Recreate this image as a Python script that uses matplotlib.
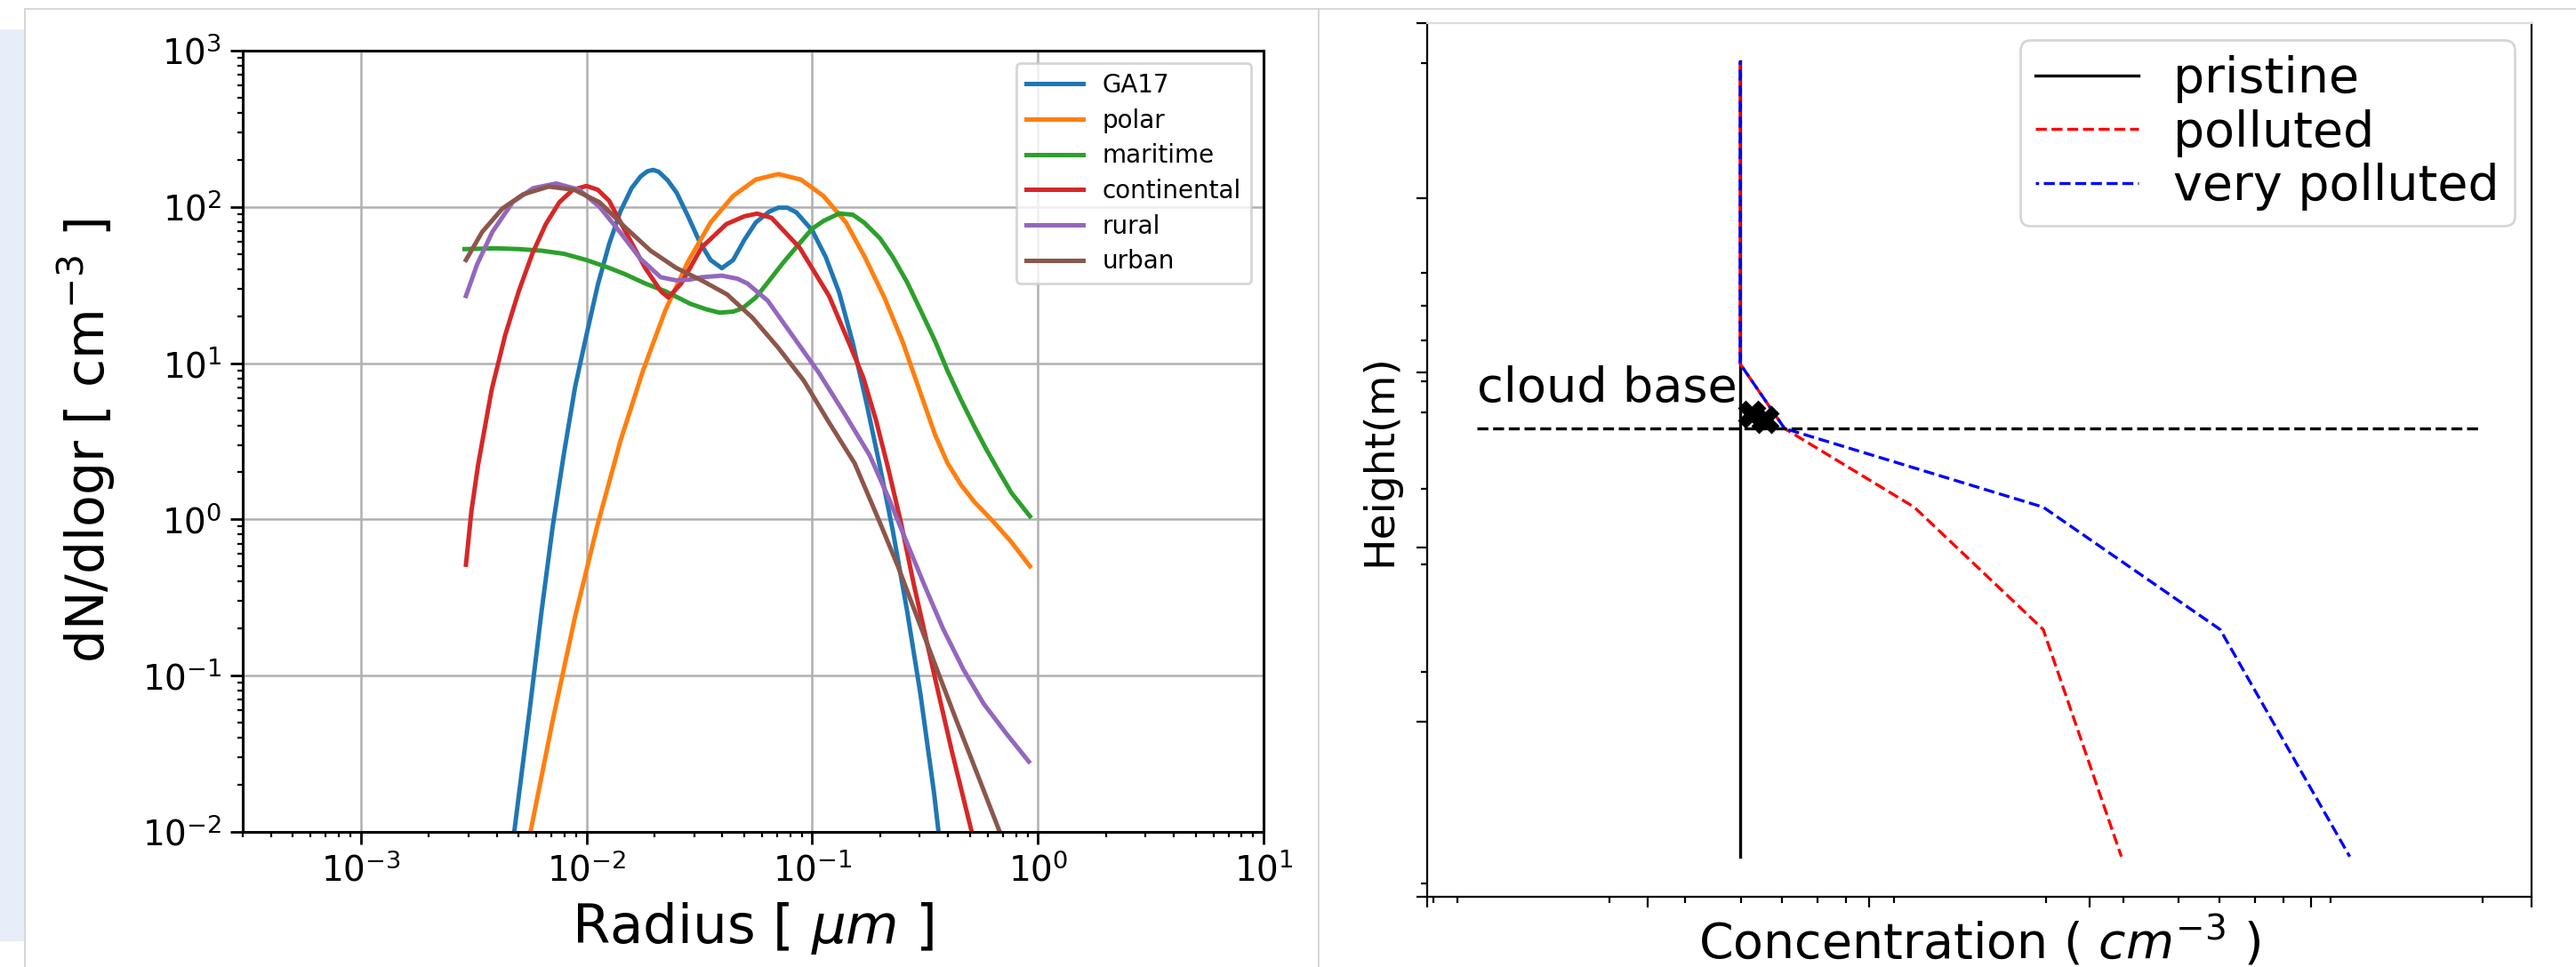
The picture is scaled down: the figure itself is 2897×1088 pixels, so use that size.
import numpy as np
import matplotlib
matplotlib.use("Agg")
import matplotlib.pyplot as plt
from matplotlib.lines import Line2D
from matplotlib.patches import Rectangle
from matplotlib.ticker import LogLocator, FixedLocator

# --- left panel: size distributions (log10 of radius [um] and of dN/dlogr) ---
ga17_logr = [-2.36, -2.32, -2.25, -2.20, -2.15, -2.10, -2.05, -2.00, -1.95, -1.90, -1.85, -1.80, -1.76,
             -1.73, -1.705, -1.68, -1.64, -1.60, -1.55, -1.50, -1.45, -1.40, -1.35, -1.30, -1.25, -1.19,
             -1.15, -1.11, -1.07, -1.00, -0.94, -0.88, -0.82, -0.76, -0.70, -0.643, -0.58, -0.52, -0.46,
             -0.44, -0.40]
ga17_logn = [-2.5, -2.0, -1.2, -0.6, -0.05, 0.42, 0.85, 1.18, 1.50, 1.76, 1.97, 2.12, 2.195,
             2.228, 2.237, 2.225, 2.17, 2.09, 1.94, 1.78, 1.66, 1.608, 1.66, 1.79, 1.90, 1.97,
             1.995, 1.995, 1.965, 1.85, 1.68, 1.45, 1.13, 0.75, 0.34, -0.07, -0.58, -1.12, -1.75,
             -2.0, -2.4]

polar_logr = [-2.30, -2.248, -2.15, -2.05, -1.95, -1.85, -1.75, -1.65, -1.55, -1.45, -1.35, -1.25, -1.15,
              -1.05, -0.95, -0.85, -0.767, -0.68, -0.60, -0.53, -0.455, -0.40, -0.34, -0.28, -0.20, -0.12, -0.035]
polar_logn = [-2.35, -2.0, -1.29, -0.62, -0.03, 0.50, 0.95, 1.34, 1.65, 1.90, 2.07, 2.175, 2.21,
              2.175, 2.07, 1.90, 1.68, 1.42, 1.14, 0.85, 0.54, 0.36, 0.22, 0.11, -0.01, -0.14, -0.30]

maritime_logr = [-2.54, -2.40, -2.30, -2.20, -2.10, -2.00, -1.90, -1.83, -1.74, -1.65, -1.54, -1.47,
                 -1.41, -1.35, -1.31, -1.25, -1.20, -1.13, -1.06, -1.00, -0.95, -0.88, -0.82, -0.77,
                 -0.70, -0.643, -0.58, -0.52, -0.455, -0.40, -0.342, -0.28, -0.229, -0.17, -0.117, -0.035]
maritime_logn = [1.73, 1.735, 1.73, 1.72, 1.70, 1.66, 1.61, 1.57, 1.51, 1.46, 1.38, 1.345,
                 1.323, 1.33, 1.35, 1.42, 1.51, 1.64, 1.76, 1.86, 1.91, 1.958, 1.95, 1.90,
                 1.80, 1.68, 1.52, 1.34, 1.14, 0.95, 0.77, 0.59, 0.45, 0.30, 0.17, 0.02]

continental_logr = [-2.534, -2.51, -2.48, -2.42, -2.36, -2.30, -2.24, -2.18, -2.12, -2.06, -2.00, -1.95,
                    -1.90, -1.83, -1.74, -1.67, -1.637, -1.58, -1.49, -1.38, -1.30, -1.244, -1.18, -1.056,
                    -0.925, -0.831, -0.774, -0.718, -0.662, -0.605, -0.549, -0.455, -0.38, -0.293, -0.25]
continental_logn = [-0.29, 0.05, 0.35, 0.83, 1.18, 1.46, 1.70, 1.89, 2.03, 2.11, 2.134, 2.11,
                    2.04, 1.85, 1.61, 1.46, 1.42, 1.51, 1.74, 1.89, 1.94, 1.957, 1.93, 1.74,
                    1.43, 1.11, 0.91, 0.64, 0.32, -0.03, -0.42, -1.02, -1.49, -2.0, -2.25]

rural_logr = [-2.534, -2.485, -2.417, -2.327, -2.236, -2.134, -2.033, -1.942, -1.852, -1.762, -1.671,
              -1.603, -1.54, -1.49, -1.40, -1.33, -1.287, -1.197, -1.084, -0.971, -0.858, -0.745,
              -0.659, -0.58, -0.50, -0.42, -0.33, -0.24, -0.14, -0.04]
rural_logn = [1.43, 1.63, 1.84, 2.03, 2.12, 2.15, 2.11, 2.0, 1.84, 1.67, 1.55,
              1.53, 1.535, 1.55, 1.56, 1.54, 1.51, 1.40, 1.17, 0.94, 0.68, 0.41,
              0.13, -0.15, -0.43, -0.70, -0.96, -1.18, -1.37, -1.55]

urban_logr = [-2.534, -2.462, -2.372, -2.281, -2.168, -2.055, -1.942, -1.829, -1.716, -1.603, -1.490,
              -1.377, -1.264, -1.151, -1.038, -0.925, -0.812, -0.70, -0.62, -0.56, -0.455, -0.36,
              -0.26, -0.169, -0.10]
urban_logn = [1.66, 1.84, 1.99, 2.08, 2.13, 2.11, 2.03, 1.87, 1.72, 1.61, 1.53,
              1.44, 1.29, 1.10, 0.89, 0.62, 0.36, -0.02, -0.30, -0.53, -0.93, -1.29,
              -1.66, -2.0, -2.27]

# --- right panel: profiles (unlabelled axes, arbitrary units 0..5) ---
heights = [4.78, 3.05, 2.68, 2.23, 1.53, 0.23]
pristine_conc = [1.417, 1.417, 1.417, 1.417, 1.417, 1.417]
polluted_conc = [1.417, 1.417, 1.618, 2.205, 2.789, 3.143]
very_polluted_conc = [1.417, 1.417, 1.618, 2.789, 3.590, 4.177]
cloud_base_height = 2.68
cloud_base_span = [0.225, 4.77]
star_conc = [1.47, 1.53]
star_height = [2.76, 2.73]
conc_minor = [0.028, 0.137, 0.825, 1.167, 1.42, 1.606, 1.767, 1.895, 2.113, 2.80,
              3.151, 3.40, 3.586, 3.746, 3.875, 4.089, 4.78]
height_minor = [0.076, 1.287, 1.902, 2.335, 2.772, 2.95, 3.184, 3.382, 3.57, 4.771]

W, H = 2897, 1088
fig = plt.figure(figsize=(W / 200, H / 200), dpi=200)


def box(l, t, r, b):
    return [l / W, 1 - b / H, (r - l) / W, (b - t) / H]


# page decorations
fig.add_artist(Rectangle((0, 1 - 1059 / H), 27 / W, (1059 - 33) / H, transform=fig.transFigure,
                         color="#e8eef9", lw=0, zorder=0))
gray = "#d6d6d6"
fig.add_artist(Line2D([28 / W, 28 / W], [0, 1 - 10 / H], transform=fig.transFigure, color=gray, lw=0.7))
fig.add_artist(Line2D([28 / W, 1], [1 - 10 / H, 1 - 10 / H], transform=fig.transFigure, color=gray, lw=0.7))
fig.add_artist(Line2D([1483 / W, 1483 / W], [0, 1 - 10 / H], transform=fig.transFigure, color=gray, lw=0.7))

# ---------------- left panel ----------------
ax1 = fig.add_axes(box(273, 57, 1421, 936))
curves = [("GA17", ga17_logr, ga17_logn), ("polar", polar_logr, polar_logn),
          ("maritime", maritime_logr, maritime_logn), ("continental", continental_logr, continental_logn),
          ("rural", rural_logr, rural_logn), ("urban", urban_logr, urban_logn)]
for name, lr, ln in curves:
    ax1.plot(10 ** np.array(lr), 10 ** np.array(ln), lw=1.8, label=name)

ax1.set_xscale("log")
ax1.set_yscale("log")
ax1.set_xlim(3e-4, 10)
ax1.set_ylim(1e-2, 1e3)
ax1.xaxis.set_minor_locator(LogLocator(base=10, subs=np.arange(2, 10), numticks=30))
ax1.yaxis.set_minor_locator(LogLocator(base=10, subs=np.arange(2, 10), numticks=30))
ax1.grid(True, which="major", color="#b0b0b0", lw=0.9)
ax1.tick_params(which="major", length=5, width=1.0, labelsize=14)
ax1.tick_params(which="minor", length=2.3, width=0.8)
for s in ax1.spines.values():
    s.set_linewidth(1.1)
ax1.set_xlabel("Radius [ $\\mu m$ ]", fontsize=22, labelpad=5)
ax1.set_ylabel("dN/dlogr [ cm$^{-3}$ ]", fontsize=21, labelpad=10)
ax1.legend(loc="upper right", fontsize=10, labelspacing=0.42, handlelength=2.3)

# ---------------- right panel ----------------
ax2 = fig.add_axes(box(1605, 26, 2847, 1009))
ax2.plot(pristine_conc, heights, color="k", lw=1.2, label="pristine")
ax2.plot(polluted_conc, heights, color="r", ls="--", lw=1.2, label="polluted")
ax2.plot(very_polluted_conc, heights, color="b", ls=(2.6, (3.7, 1.6)), lw=1.2, label="very polluted")
ax2.plot(cloud_base_span, [cloud_base_height, cloud_base_height], color="k", ls="--", lw=1.2)
ax2.plot(star_conc, star_height, "kX", ms=10)
ax2.text(cloud_base_span[0], 2.833, "cloud base", fontsize=19.5, va="baseline")

ax2.set_xlim(0, 5)
ax2.set_ylim(0, 5)
ax2.xaxis.set_major_locator(FixedLocator(range(6)))
ax2.yaxis.set_major_locator(FixedLocator(range(6)))
ax2.set_xticks(conc_minor, minor=True)
ax2.set_yticks(height_minor, minor=True)
ax2.tick_params(labelbottom=False, labelleft=False)
ax2.tick_params(which="major", length=4.3, width=0.8)
ax2.tick_params(which="minor", length=2.5, width=0.8)
ax2.spines["top"].set_color("#dddddd")
ax2.set_xlabel("Concentration ( $cm^{-3}$ )", fontsize=20, labelpad=1)
ax2.set_ylabel("Height(m)", fontsize=17, labelpad=5)
ax2.legend(loc="upper right", fontsize=20, labelspacing=0.12, borderpad=0.3,
           handlelength=2.1, handletextpad=0.7, borderaxespad=0.35)

fig.savefig("out.png", dpi=200)
